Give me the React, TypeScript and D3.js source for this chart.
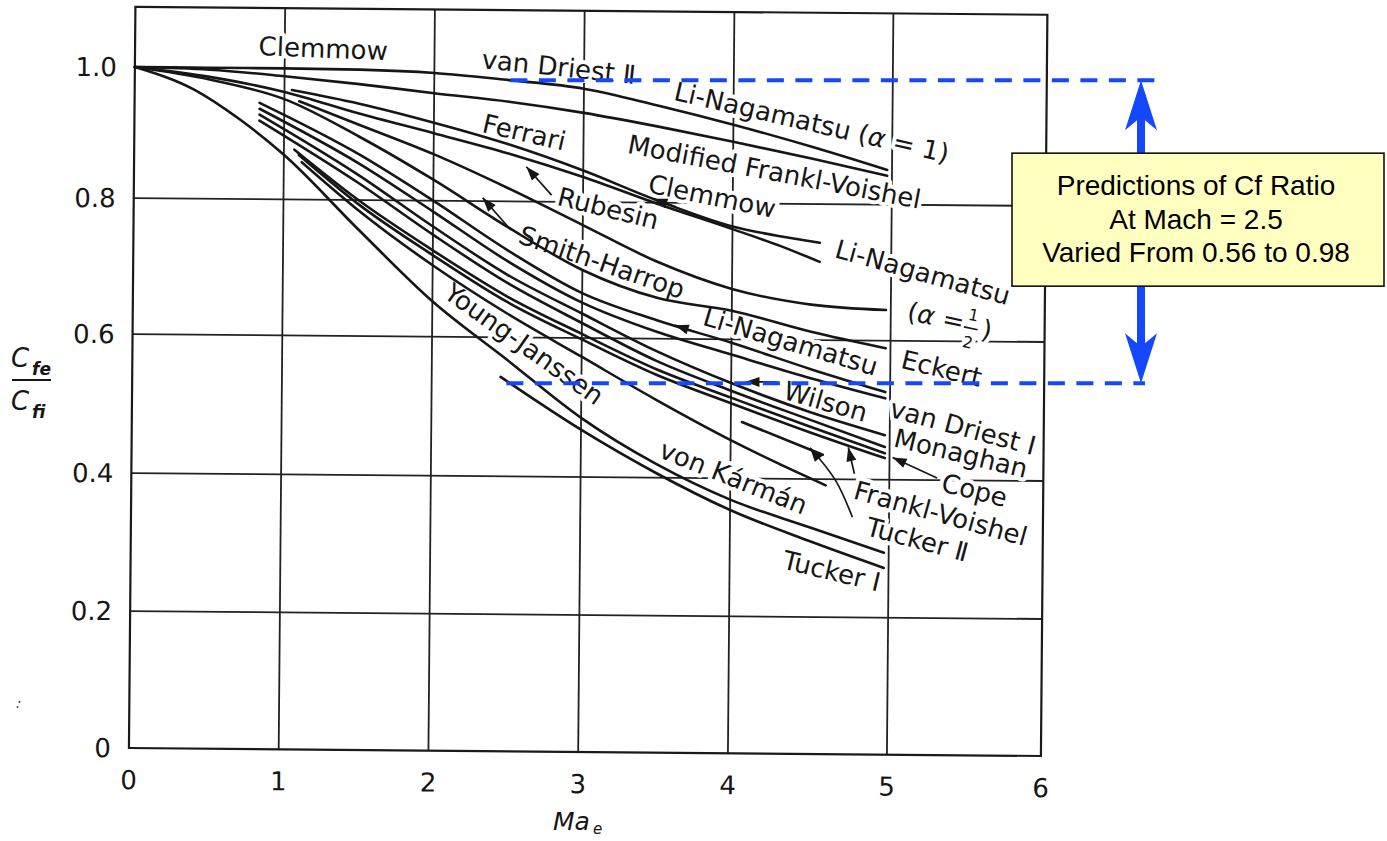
import React from 'react';
import * as d3 from 'd3';

type Pt = [number, number];

// axes
const machTicks = [0, 1, 2, 3, 4, 5, 6];
const ratioTicks = [0, 0.2, 0.4, 0.6, 0.8, 1.0];
const ratioTickLabels = ['0', '0.2', '0.4', '0.6', '0.8', '1.0'];
const gridMach = [1, 2, 3, 4, 5];
const gridRatio = [0.2, 0.4, 0.6, 0.8];
const FRAME_TOP = 1.092;

// curves: [Ma_e, Cfe/Cfi]
const vanDriestII: Pt[] = [[0, 1], [0.5, 1], [1, 1], [1.5, 0.999], [2, 0.995], [2.5, 0.985], [3, 0.973], [3.5, 0.948], [4, 0.92], [4.5, 0.887], [4.97, 0.853]];
const liNagamatsuA1: Pt[] = [[0, 1], [0.5, 0.997], [1, 0.988], [1.5, 0.977], [2, 0.964], [2.5, 0.952], [3, 0.936], [3.5, 0.916], [4, 0.894], [4.5, 0.869], [4.97, 0.844]];
const clemmow: Pt[] = [[1.05, 0.967], [1.5, 0.947], [2, 0.919], [2.5, 0.887], [3, 0.848], [3.5, 0.803], [4, 0.766], [4.3, 0.752], [4.55, 0.743]];
const liNagamatsu: Pt[] = [[0, 1], [0.5, 0.986], [1, 0.964], [1.5, 0.932], [2, 0.903], [2.5, 0.873], [3, 0.838], [3.5, 0.798], [4, 0.762], [4.3, 0.738], [4.55, 0.715]];
const liNagamatsuHalf: Pt[] = [[1.1, 0.95], [1.5, 0.915], [2, 0.871], [2.5, 0.82], [3, 0.766], [3.5, 0.713], [4, 0.674], [4.5, 0.652], [4.97, 0.645]];
const eckert: Pt[] = [[0, 1], [0.5, 0.982], [1, 0.953], [1.5, 0.897], [2, 0.832], [2.5, 0.762], [3, 0.7], [3.5, 0.66], [4, 0.642], [4.5, 0.612], [4.97, 0.589]];
const vanDriestI: Pt[] = [[0.835, 0.947], [1.5, 0.87], [2, 0.8], [2.5, 0.728], [3, 0.666], [3.5, 0.627], [4, 0.595], [4.5, 0.558], [4.97, 0.526]];
const smithHarrop: Pt[] = [[0.835, 0.938], [1.5, 0.856], [2, 0.784], [2.5, 0.712], [3, 0.652], [3.5, 0.61], [4, 0.578], [4.5, 0.545], [4.97, 0.517]];
const wilson: Pt[] = [[0.835, 0.929], [1.5, 0.838], [2, 0.762], [2.5, 0.692], [3, 0.636], [3.5, 0.582], [4, 0.537], [4.5, 0.496], [4.97, 0.464]];
const monaghan: Pt[] = [[0.835, 0.92], [1.5, 0.826], [2, 0.75], [2.5, 0.68], [3, 0.622], [3.5, 0.568], [4, 0.526], [4.5, 0.485], [4.97, 0.447]];
const cope: Pt[] = [[1.07, 0.876], [1.5, 0.8], [2, 0.727], [2.5, 0.66], [3, 0.606], [3.5, 0.556], [4, 0.516], [4.5, 0.475], [4.97, 0.438]];
const ferrari: Pt[] = [[1.1, 0.868], [1.5, 0.794], [2, 0.72], [2.5, 0.652], [3, 0.598], [3.5, 0.548], [4, 0.508], [4.5, 0.467], [4.97, 0.431]];
const vonKarman: Pt[] = [[1.12, 0.857], [1.5, 0.785], [2, 0.705], [2.5, 0.635], [3, 0.573], [3.5, 0.512], [4, 0.455], [4.3, 0.422], [4.6, 0.391]];
const tuckerII: Pt[] = [[0, 1], [0.4, 0.966], [0.7, 0.922], [1, 0.868], [1.5, 0.757], [2, 0.652], [2.5, 0.568], [3, 0.485], [3.5, 0.42], [4, 0.369], [4.5, 0.33], [4.97, 0.294]];
const tuckerI: Pt[] = [[2.46, 0.543], [3, 0.468], [3.5, 0.407], [4, 0.354], [4.5, 0.31], [4.97, 0.272]];
const frankl: Pt[] = [[4.07, 0.481], [4.58, 0.435]];

const curves = [vanDriestII, liNagamatsuA1, clemmow, liNagamatsu, liNagamatsuHalf, eckert, vanDriestI,
  smithHarrop, wilson, monaghan, cope, ferrari, vonKarman, tuckerII, tuckerI, frankl];

// curve names placed on the chart: text, [Ma, ratio] of baseline middle, angle
const labels: { text: string; at: Pt; angle: number }[] = [
  { text: 'Clemmow', at: [1.255, 1.017], angle: 1.7 },
  { text: 'van Driest Ⅱ', at: [2.825, 0.992], angle: 5.5 },
  { text: 'Li-Nagamatsu (α = 1)', at: [4.48, 0.911], angle: 12.5 },
  { text: 'Ferrari', at: [2.59, 0.892], angle: 12.5 },
  { text: 'Modified Frankl-Voishel', at: [4.25, 0.835], angle: 10.3 },
  { text: 'Clemmow', at: [3.85, 0.797], angle: 11 },
  { text: 'Li-Nagamatsu', at: [5.19, 0.688], angle: 15 },
  { text: 'Rubesin', at: [3.155, 0.778], angle: 13.5 },
  { text: 'Smith-Harrop', at: [3.11, 0.699], angle: 18.5 },
  { text: 'Li-Nagamatsu', at: [4.356, 0.585], angle: 16 },
  { text: 'Eckert', at: [5.32, 0.548], angle: 13 },
  { text: 'Wilson', at: [4.58, 0.499], angle: 15.5 },
  { text: 'van Driest Ⅰ', at: [5.46, 0.464], angle: 14.5 },
  { text: 'Monaghan', at: [5.45, 0.426], angle: 13 },
  { text: 'Cope', at: [5.54, 0.373], angle: 13.5 },
  { text: 'Frankl-Voishel', at: [5.32, 0.339], angle: 15 },
  { text: 'Tucker Ⅱ', at: [5.17, 0.301], angle: 14.5 },
  { text: 'Tucker Ⅰ', at: [4.63, 0.254], angle: 13 },
  { text: 'von Kármán', at: [4.0, 0.389], angle: 21.3 },
  { text: 'Young-Janssen', at: [2.58, 0.58], angle: 35 },
];
const alphaHalfAt: Pt = [5.10, 0.631];

// pointer arrows, tail ... tip
const pointers: Pt[][] = [
  [[2.79, 0.81], [2.62, 0.853]],
  [[2.52, 0.758], [2.33, 0.805]],
  [[4.29, 0.539], [4.09, 0.539]],
  [[5.31, 0.403], [5.02, 0.432]],
  [[4.77, 0.345], [4.66, 0.399], [4.5, 0.445]],
  [[4.78, 0.408], [4.74, 0.446]],
  [[3.62, 0.794], [3.47, 0.806]],
  [[3.75, 0.611], [3.62, 0.62]],
];

// overlay annotation
const annotationLines = ['Predictions of Cf Ratio', 'At Mach = 2.5', 'Varied From 0.56 to 0.98'];
const annMach = 2.5;
const annHigh = 0.986;
const annLow = 0.535;

const ink = '#161616';
const font = 'DejaVu Sans, sans-serif';
const BLUE = '#1448ff';

function head(p: Pt, q: Pt, len = 14, half = 5) {
  const dx = q[0] - p[0], dy = q[1] - p[1];
  const d = Math.hypot(dx, dy) || 1;
  const ux = dx / d, uy = dy / d;
  const bx = q[0] - ux * len, by = q[1] - uy * len;
  return `M${q[0]},${q[1]}L${bx - uy * half},${by + ux * half}L${bx + uy * half},${by - ux * half}Z`;
}

export default function App() {
  const x = d3.scaleLinear().domain([0, 4, 5, 6]).range([132, 731, 890, 1044]);
  const y = d3.scaleLinear().domain([0, 0.2, 0.4, 0.6, 0.8, 1, 1.1]).range([752, 615, 477, 338, 202, 71, 5.5]);
  const line = d3.line<Pt>().x(d => x(d[0])).y(d => y(d[1])).curve(d3.curveMonotoneX);
  const px = (d: Pt): Pt => [x(d[0]), y(d[1])];

  const renderLabel = (l: { text: string; at: Pt; angle: number }, i: number, halo: boolean) => {
    const [lx, ly] = px(l.at);
    const parts = l.text.split('α');
    return (
      <text key={(halo ? 'h' : 't') + i} x={lx} y={ly} transform={`rotate(${l.angle} ${lx} ${ly})`}
        textAnchor="middle" fontFamily={font} fontSize={26}
        fill={halo ? '#fff' : ink} stroke={halo ? '#fff' : 'none'} strokeWidth={halo ? 8 : 0} strokeLinejoin="round">
        {parts.length > 1 ? <>{parts[0]}<tspan fontStyle="italic">α</tspan>{parts[1]}</> : l.text}
      </text>
    );
  };

  const renderHalf = (halo: boolean) => {
    const [ax, ay] = px(alphaHalfAt);
    const st = halo ? { fill: '#fff', stroke: '#fff', strokeWidth: 8, strokeLinejoin: 'round' as const } : { fill: ink };
    return (
      <g key={halo ? 'hh' : 'ht'} transform={`translate(${ax},${ay}) rotate(11.5)`} fontFamily={font}>
        <text x={0} y={0} fontSize={26} {...st}>(<tspan fontStyle="italic">α</tspan> =</text>
        <text x={65} y={-13} fontSize={16} textAnchor="middle" {...st}>1</text>
        <line x1={58} x2={72} y1={-5} y2={-5} stroke={halo ? '#fff' : ink} strokeWidth={halo ? 8 : 1.6} />
        <text x={65} y={15} fontSize={16} textAnchor="middle" {...st}>2</text>
        <text x={76} y={2} fontSize={26} {...st}>)</text>
      </g>
    );
  };

  const ax = x(6) + 97;
  const top = y(annHigh);
  const bot = y(annLow);
  const arrowPath = `M${ax},${top}L${ax + 16},${top + 50}L${ax + 4},${top + 40}L${ax + 4},${bot - 40}L${ax + 16},${bot - 50}L${ax},${bot}L${ax - 16},${bot - 50}L${ax - 4},${bot - 40}L${ax - 4},${top + 40}L${ax - 16},${top + 50}Z`;
  const boxX = ax - 129, boxY = top + 73, boxW = 372, boxH = 133;

  return (
    <svg width={1387} height={841} style={{ position: 'absolute', left: 0, top: 0, display: 'block', background: '#fff' }}>
      <g transform="rotate(0.5 585 400)">
        {/* grid and frame */}
        {gridMach.map(m => (
          <line key={'gx' + m} x1={x(m)} x2={x(m)} y1={y(0)} y2={y(FRAME_TOP)} stroke="#222" strokeWidth={1.8} />
        ))}
        {gridRatio.map(r => (
          <line key={'gy' + r} x1={x(0)} x2={x(6)} y1={y(r)} y2={y(r)} stroke="#222" strokeWidth={1.8} />
        ))}
        <rect x={x(0)} y={y(FRAME_TOP)} width={x(6) - x(0)} height={y(0) - y(FRAME_TOP)} fill="none" stroke="#1a1a1a" strokeWidth={2.2} />

        {/* tick labels */}
        {machTicks.map(m => (
          <text key={'tx' + m} x={x(m)} y={y(0) + 41} textAnchor="middle" fontFamily={font} fontSize={26} fill={ink}>{m}</text>
        ))}
        {ratioTicks.map((r, i) => (
          <text key={'ty' + r} x={x(0) - 18} y={y(r)} dy="0.36em" textAnchor="end" fontFamily={font} fontSize={26} fill={ink}>{ratioTickLabels[i]}</text>
        ))}

        {/* white knock-outs behind labels */}
        {labels.map((l, i) => renderLabel(l, i, true))}
        {renderHalf(true)}

        {/* curves */}
        {curves.map((c, i) => (
          <path key={'c' + i} d={line(c) || ''} fill="none" stroke={ink} strokeWidth={2.6} strokeLinecap="round" />
        ))}

        {/* pointers */}
        {pointers.map((p, i) => {
          const pts = p.map(px);
          const shaft = d3.line().curve(d3.curveCatmullRom)(pts as [number, number][]) || '';
          return (
            <g key={'p' + i}>
              <path d={shaft} fill="none" stroke={ink} strokeWidth={1.7} />
              <path d={head(pts[pts.length - 2], pts[pts.length - 1])} fill={ink} />
            </g>
          );
        })}

        {labels.map((l, i) => renderLabel(l, i, false))}
        {renderHalf(false)}
      </g>

      {/* axis titles */}
      <g fontFamily={font} fill={ink}>
        <text x={11} y={367} fontSize={26} fontStyle="italic">C</text>
        <text x={32} y={375} fontSize={17} fontStyle="italic" fontWeight="bold">fe</text>
        <line x1={12} x2={51} y1={380} y2={380} stroke={ink} strokeWidth={2} />
        <text x={11} y={410} fontSize={26} fontStyle="italic">C</text>
        <text x={32} y={418} fontSize={17} fontStyle="italic" fontWeight="bold">fi</text>
        <text x={553} y={830} fontSize={25} fontStyle="italic">Ma</text>
        <text x={593} y={834} fontSize={15} fontStyle="italic">e</text>
        <text x={15} y={707} fontSize={14} transform="rotate(20 15 707)">:</text>
      </g>

      {/* overlay annotation */}
      <line x1={x(annMach) + 4} x2={x(6) + 121} y1={top} y2={top} stroke={BLUE} strokeWidth={4} strokeDasharray="17 11.5" />
      <line x1={x(annMach)} x2={x(6) + 101} y1={bot} y2={bot} stroke={BLUE} strokeWidth={4} strokeDasharray="17 11.5" />
      <path d={arrowPath} fill={BLUE} />
      <rect x={boxX} y={boxY} width={boxW} height={boxH} fill="#ffffc0" stroke="#111" strokeWidth={1.6} />
      {annotationLines.map((t, i) => (
        <text key={'a' + i} x={boxX + 184} y={boxY + 42 + i * 33.5} textAnchor="middle"
          fontFamily="Liberation Sans, Arial, sans-serif" fontSize={28} fill="#000">{t}</text>
      ))}
    </svg>
  );
}
